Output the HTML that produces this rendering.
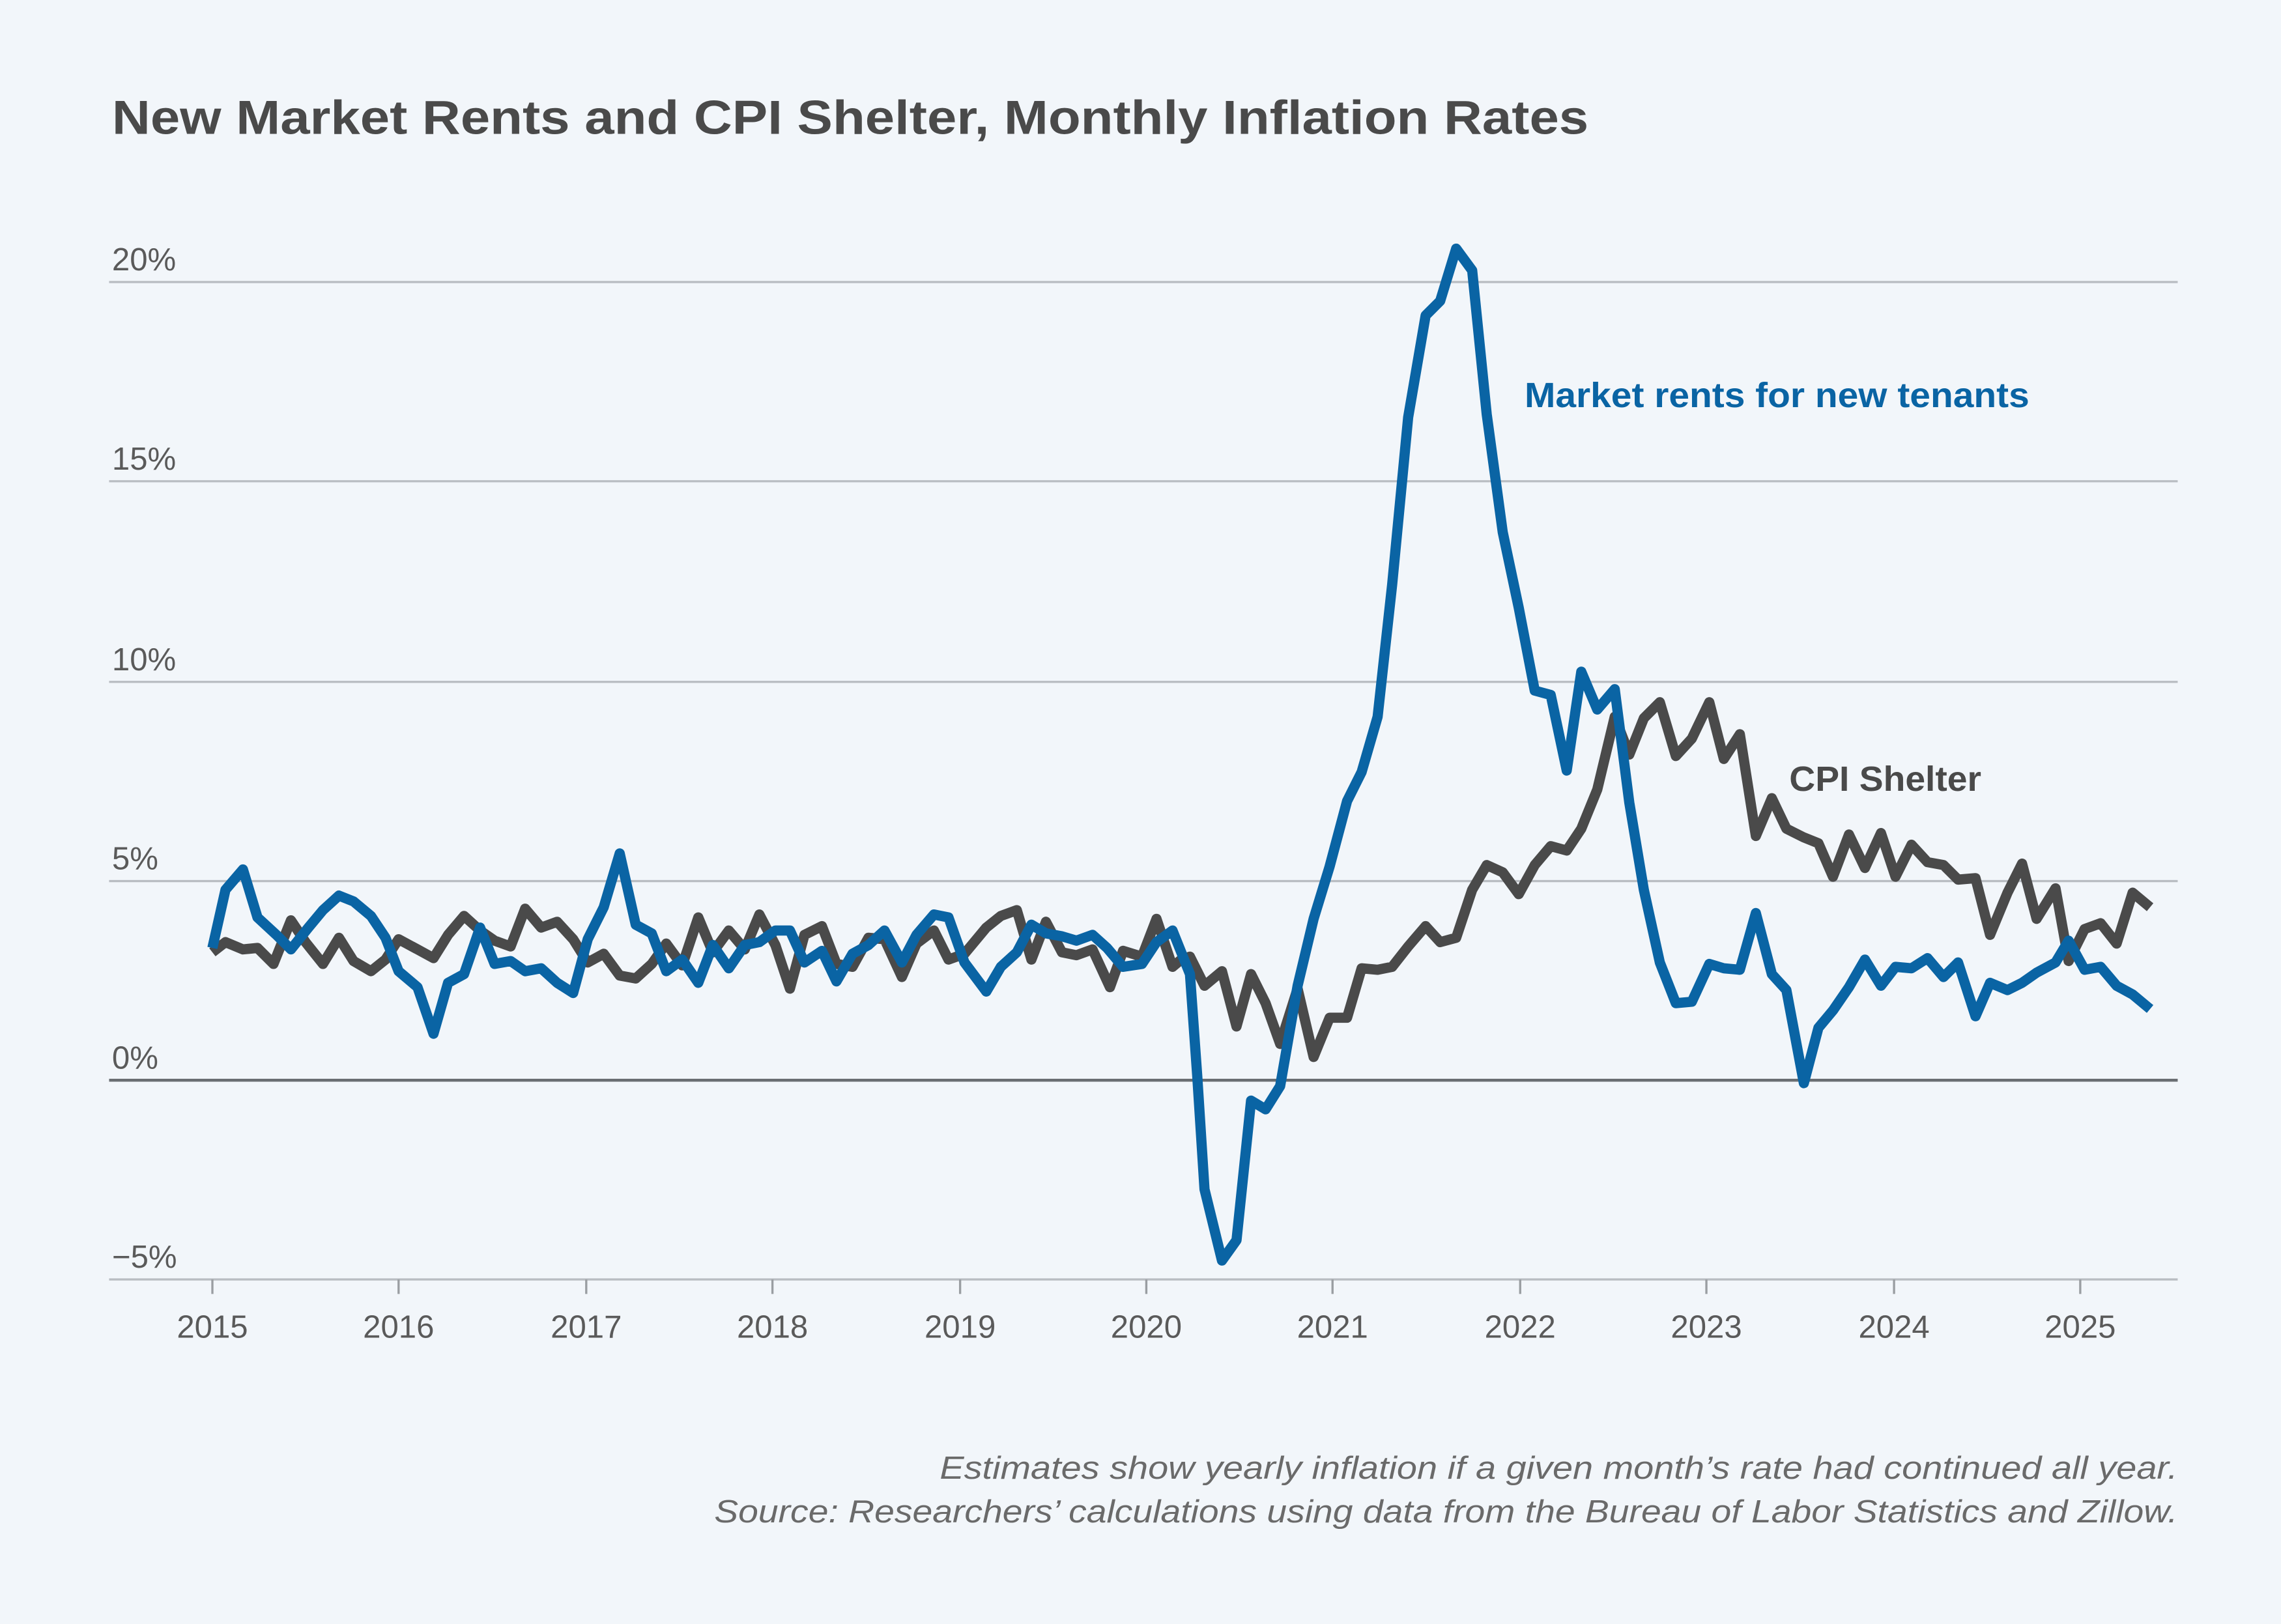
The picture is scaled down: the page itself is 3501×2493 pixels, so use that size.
<!DOCTYPE html>
<html><head><meta charset="utf-8"><style>
html,body{margin:0;padding:0;background:#f2f6fa;}
svg{display:block;}
text{font-family:"Liberation Sans",sans-serif;}
</style></head><body>
<svg width="3501" height="2493" viewBox="0 0 1568 1117" preserveAspectRatio="none" xmlns="http://www.w3.org/2000/svg">
<rect width="1568" height="1117" fill="#f2f6fa"/>
<text x="77" y="92" font-size="33" font-weight="bold" fill="#4a4a4a" textLength="1015" lengthAdjust="spacingAndGlyphs">New Market Rents and CPI Shelter, Monthly Inflation Rates</text>
<g stroke="#b9bdc2" stroke-width="1.5">
<line x1="75" y1="194" x2="1497" y2="194"/>
<line x1="75" y1="331" x2="1497" y2="331"/>
<line x1="75" y1="469" x2="1497" y2="469"/>
<line x1="75" y1="606" x2="1497" y2="606"/>
<line x1="75" y1="880" x2="1497" y2="880"/>
</g>
<line x1="75" y1="743" x2="1497" y2="743" stroke="#6a6e72" stroke-width="2"/>
<g stroke="#9a9ea2" stroke-width="1.5">
<line x1="146" y1="880" x2="146" y2="890"/><line x1="274" y1="880" x2="274" y2="890"/><line x1="403" y1="880" x2="403" y2="890"/><line x1="531" y1="880" x2="531" y2="890"/><line x1="660" y1="880" x2="660" y2="890"/><line x1="788" y1="880" x2="788" y2="890"/><line x1="916" y1="880" x2="916" y2="890"/><line x1="1045" y1="880" x2="1045" y2="890"/><line x1="1173" y1="880" x2="1173" y2="890"/><line x1="1302" y1="880" x2="1302" y2="890"/><line x1="1430" y1="880" x2="1430" y2="890"/>
</g>
<g font-size="22" fill="#5a5a5a">
<text x="77" y="186">20%</text><text x="77" y="323">15%</text><text x="77" y="461">10%</text><text x="77" y="598">5%</text><text x="77" y="735">0%</text><text x="77" y="872">−5%</text>
</g>
<g font-size="22" fill="#5a5a5a" text-anchor="middle">
<text x="146" y="920">2015</text><text x="274" y="920">2016</text><text x="403" y="920">2017</text><text x="531" y="920">2018</text><text x="660" y="920">2019</text><text x="788" y="920">2020</text><text x="916" y="920">2021</text><text x="1045" y="920">2022</text><text x="1173" y="920">2023</text><text x="1302" y="920">2024</text><text x="1430" y="920">2025</text>
</g>
<polyline fill="none" stroke="#4a4a4a" stroke-width="7" stroke-linejoin="round" points="146,655 155,648 167,653 177,652 188,663 200,633 210,648 222,663 233,645 243,661 255,668 265,660 274,646 287,653 298,659 308,643 319,630 330,640 340,647 351,651 361,625 372,638 383,634 394,646 404,662 415,656 426,671 437,673 448,663 458,649 469,664 480,631 490,655 501,640 512,653 522,629 533,650 543,680 553,643 565,637 575,663 586,665 597,645 608,646 620,672 630,649 642,640 652,660 663,656 678,638 688,630 699,626 709,660 719,634 730,655 740,657 751,653 763,679 772,654 785,658 795,632 806,665 812,660 818,658 828,678 840,668 850,706 860,670 870,690 880,718 892,680 903,727 914,700 926,700 936,666 947,667 957,665 968,651 980,637 990,648 1001,645 1012,612 1022,595 1033,600 1044,615 1055,595 1066,582 1077,585 1087,570 1098,543 1110,493 1120,519 1130,494 1141,483 1152,520 1163,508 1175,483 1185,522 1196,505 1207,575 1218,549 1228,570 1240,576 1250,580 1260,603 1271,574 1282,597 1293,573 1303,603 1314,581 1325,593 1336,595 1346,605 1358,604 1368,643 1380,614 1390,594 1400,632 1413,611 1422,661 1433,639 1444,635 1455,649 1466,614 1478,624"/>
<polyline fill="none" stroke="#0a64a4" stroke-width="7" stroke-linejoin="round" points="146,652 155,612 167,598 177,631 190,643 200,653 212,638 222,626 233,616 243,620 255,630 265,645 274,668 287,679 298,711 308,676 319,670 330,638 340,663 351,661 361,668 372,666 383,676 394,683 404,646 415,624 426,587 437,636 448,642 458,668 469,660 480,676 490,650 501,666 512,650 522,648 533,640 543,640 553,662 565,654 575,675 586,656 597,650 608,640 620,662 630,643 642,629 652,631 663,662 678,682 688,665 699,655 709,636 719,642 730,644 740,647 751,643 761,652 772,665 785,663 795,648 806,640 812,655 818,670 823,740 828,818 840,867 850,853 860,757 870,763 880,747 892,678 903,632 914,596 926,551 936,531 947,493 957,402 968,287 980,217 990,207 1001,171 1012,186 1022,285 1033,366 1044,418 1055,475 1066,478 1077,530 1087,462 1098,488 1110,474 1120,552 1130,612 1141,662 1152,690 1163,689 1175,663 1185,666 1196,667 1207,628 1218,670 1228,681 1240,745 1250,707 1260,695 1271,679 1282,660 1293,678 1303,665 1314,666 1325,659 1336,672 1346,662 1358,699 1368,676 1380,681 1390,676 1400,669 1413,662 1422,647 1433,667 1444,665 1455,678 1466,684 1478,694"/>
<text x="1048" y="280" font-size="24" font-weight="bold" fill="#0a64a4" textLength="347" lengthAdjust="spacingAndGlyphs">Market rents for new tenants</text>
<text x="1230" y="544" font-size="24" font-weight="bold" fill="#4a4a4a" textLength="132" lengthAdjust="spacingAndGlyphs">CPI Shelter</text>
<text x="1497" y="1017" font-size="22" font-style="italic" fill="#6a6a6a" text-anchor="end" textLength="851" lengthAdjust="spacingAndGlyphs">Estimates show yearly inflation if a given month’s rate had continued all year.</text>
<text x="1497" y="1047" font-size="22" font-style="italic" fill="#6a6a6a" text-anchor="end" textLength="1006" lengthAdjust="spacingAndGlyphs">Source: Researchers’ calculations using data from the Bureau of Labor Statistics and Zillow.</text>
</svg>
</body></html>
